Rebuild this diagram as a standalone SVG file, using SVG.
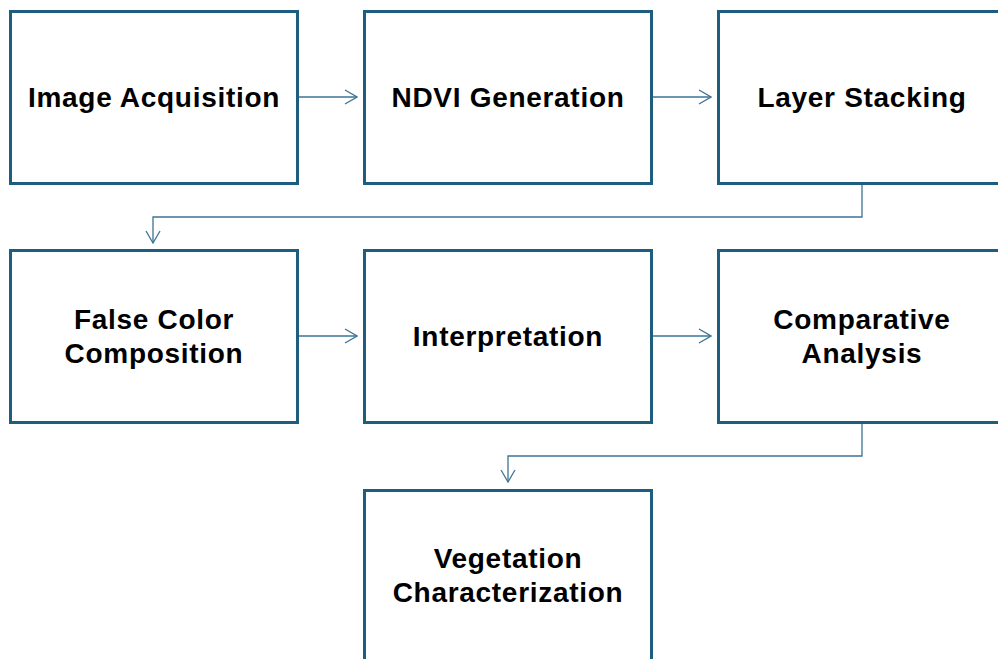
<svg xmlns="http://www.w3.org/2000/svg" width="998" height="659" viewBox="0 0 998 659">
<style>
.box{fill:#fff;stroke:#1d5d7e;stroke-width:3}
.t{font-family:"Liberation Sans",Arial,sans-serif;font-weight:bold;font-size:28px;letter-spacing:0.7px;fill:#000;text-anchor:middle;dominant-baseline:central}
.c{fill:none;stroke:#3d7394;stroke-width:1.3}
</style>
<defs>
<marker id="ah" viewBox="0 0 14 16" refX="13" refY="8" markerWidth="14" markerHeight="16" markerUnits="userSpaceOnUse" orient="auto">
<path d="M1,1 L13,8 L1,15" fill="none" stroke="#3d7394" stroke-width="1.3"/>
</marker>
</defs>
<rect width="998" height="659" fill="#fff"/>
<g id="connectors">
<path class="c" d="M298,97 H357" marker-end="url(#ah)"/>
<path class="c" d="M652,97 H711" marker-end="url(#ah)"/>
<path class="c" d="M862,184 V217 H153 V243" marker-end="url(#ah)"/>
<path class="c" d="M298,336 H357" marker-end="url(#ah)"/>
<path class="c" d="M652,336 H711" marker-end="url(#ah)"/>
<path class="c" d="M862,423 V456 H508 V482" marker-end="url(#ah)"/>
</g>
<g id="n1"><rect class="box" x="10.5" y="11.5" width="287" height="172"/><text class="t" x="154" y="97">Image Acquisition</text></g>
<g id="n2"><rect class="box" x="364.5" y="11.5" width="287" height="172"/><text class="t" x="508" y="97">NDVI Generation</text></g>
<g id="n3"><rect class="box" x="718.5" y="11.5" width="287" height="172"/><text class="t" x="862" y="97">Layer Stacking</text></g>
<g id="n4"><rect class="box" x="10.5" y="250.5" width="287" height="172"/><text class="t" x="154" y="319">False Color</text><text class="t" x="154" y="353">Composition</text></g>
<g id="n5"><rect class="box" x="364.5" y="250.5" width="287" height="172"/><text class="t" x="508" y="336">Interpretation</text></g>
<g id="n6"><rect class="box" x="718.5" y="250.5" width="287" height="172"/><text class="t" x="862" y="319">Comparative</text><text class="t" x="862" y="353">Analysis</text></g>
<g id="n7"><rect class="box" x="364.5" y="490.5" width="287" height="172"/><text class="t" x="508" y="558">Vegetation</text><text class="t" x="508" y="592">Characterization</text></g>
</svg>
